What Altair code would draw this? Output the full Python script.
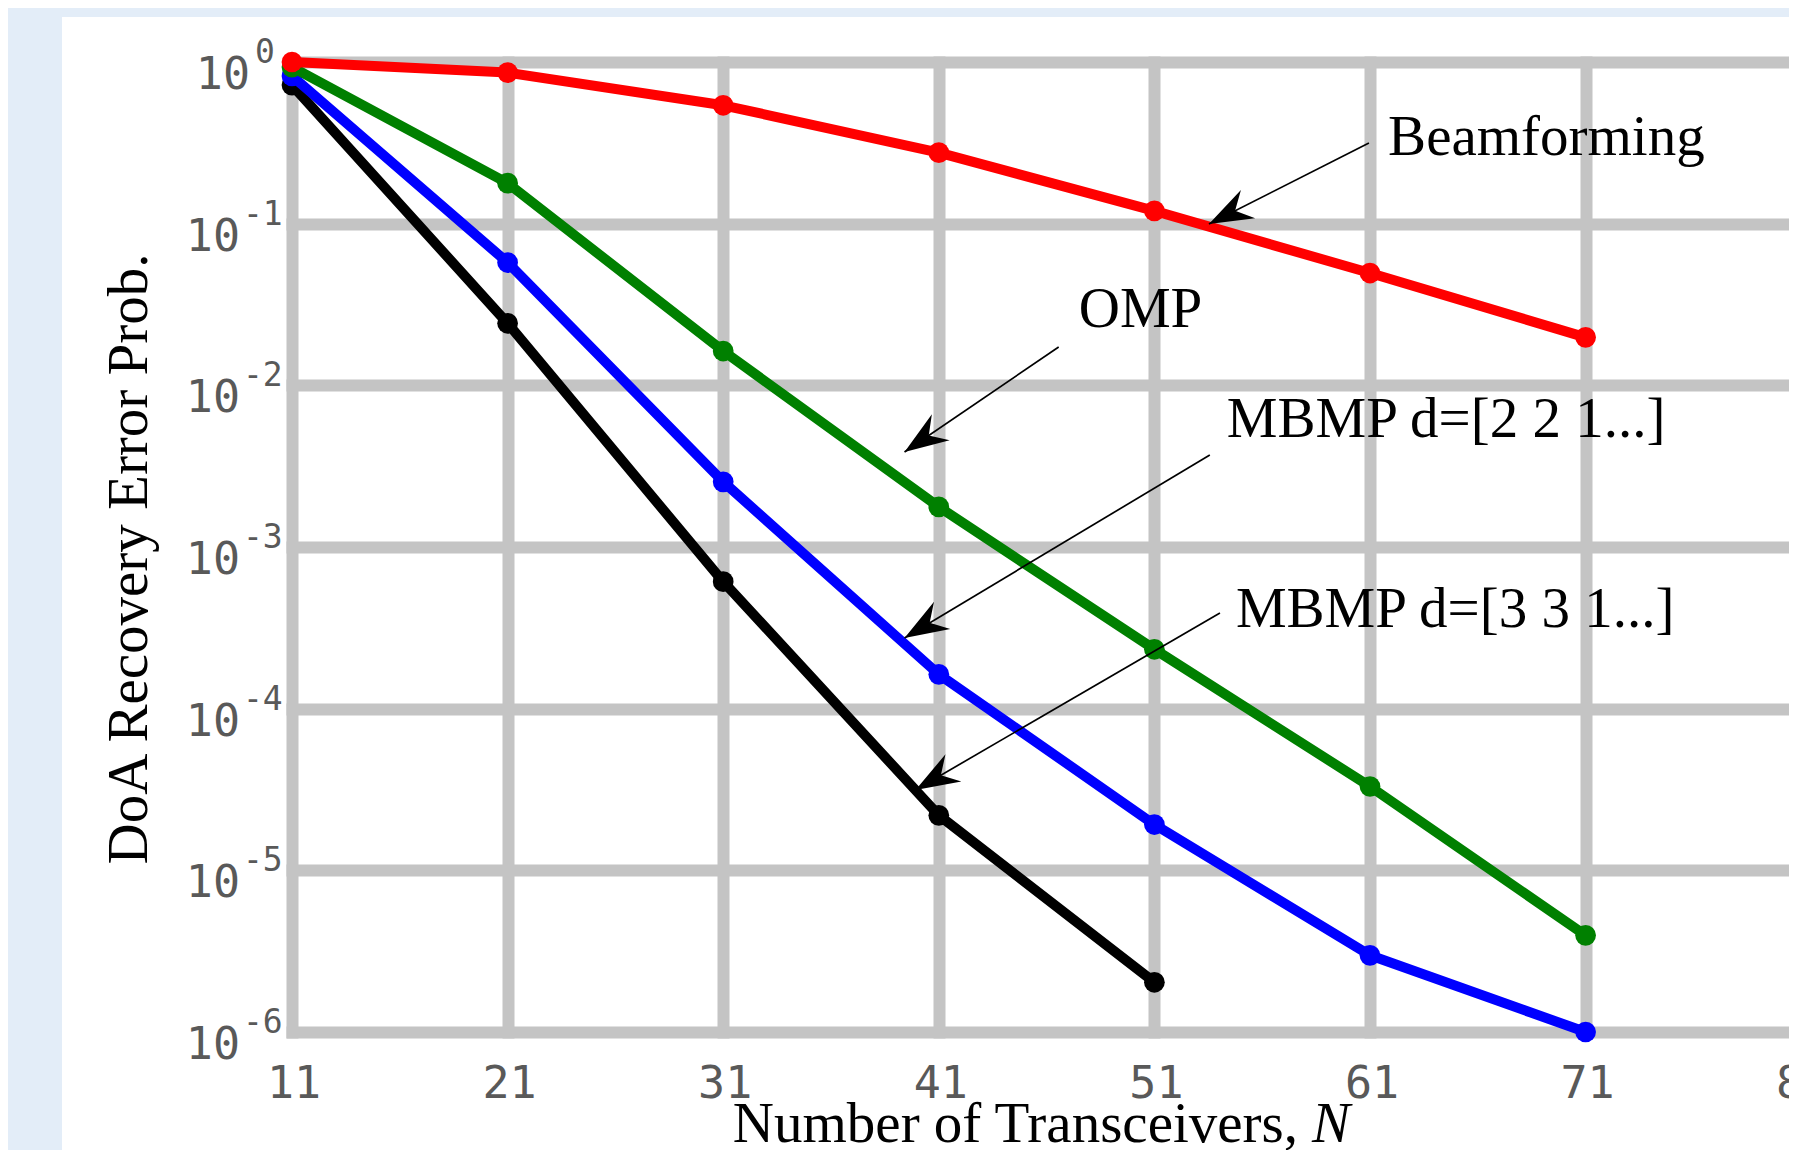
import math
import altair as alt
import pandas as pd

# ---------------- data ----------------
N_all = [11, 21, 31, 41, 51, 61, 71]
beamforming = [1.0, 0.86, 0.54, 0.275, 0.12, 0.0495, 0.0198]
omp = [0.93, 0.178, 0.0163, 0.00177, 2.33e-4, 3.3e-5, 3.96e-6]
mbmp221 = [0.82, 0.0575, 2.53e-3, 1.63e-4, 1.92e-5, 2.98e-6, 1.0e-6]
N_331 = [11, 21, 31, 41, 51]
mbmp331 = [0.72, 0.0242, 6.1e-4, 2.19e-5, 2.03e-6]

series_names = ["MBMP d=[3 3 1...]", "MBMP d=[2 2 1...]", "OMP", "Beamforming"]
series_N = [N_331, N_all, N_all, N_all]
series_vals = [mbmp331, mbmp221, omp, beamforming]
series_colors = ["#000000", "#0000ff", "#008000", "#ff0000"]

x_ticks = [11, 21, 31, 41, 51, 61, 71, 81]
y_ticks = [1, 1e-1, 1e-2, 1e-3, 1e-4, 1e-5, 1e-6]
y_exponents = ["0", "-1", "-2", "-3", "-4", "-5", "-6"]

ann_labels = ["Beamforming", "OMP", "MBMP d=[2 2 1...]", "MBMP d=[3 3 1...]"]
ann_label_N = [61.84, 47.49, 54.36, 54.78]
ann_label_P = [0.266, 0.0230, 4.79e-3, 3.2e-4]
arrow_from_N = [60.95, 46.56, 53.57, 54.04]
arrow_from_P = [0.3155, 0.01726, 3.71e-3, 3.91e-4]
arrow_to_N = [53.53, 39.41, 39.41, 39.92]
arrow_to_P = [0.0995, 3.87e-3, 2.74e-4, 3.14e-5]

x_title = "Number of Transceivers,"
x_title_var = "N"
y_title = "DoA Recovery Error Prob."

# ---------------- layout / style ----------------
PAD_L, PAD_T = 284, 54
TOTAL_W, TOTAL_H = 1781, 1142
W = TOTAL_W - PAD_L
H = 970
PX_PER_N = 21.56
X_MAX = 11 + W / PX_PER_N
BLUE = "#e3edf8"
GRID = "#c4c4c4"
TICK_FONT = "DejaVu Sans Mono"
TICK_COLOR = "#595959"
SERIF = "Liberation Serif"
ARROW_PATH = "M0,0L0.62,1.72L0,1.15L-0.62,1.72Z"

x_scale = alt.Scale(domain=[11, X_MAX], nice=False, zero=False)
y_scale = alt.Scale(type="log", domain=[1e-6, 1], nice=False)
x_axis = alt.Axis(values=x_ticks[:-1], grid=True, labels=False, ticks=False, domain=False,
                  title=None, gridColor=GRID, gridWidth=12, gridCap="square", gridOpacity=1)
y_axis = alt.Axis(values=y_ticks, grid=True, labels=False, ticks=False, domain=False,
                  title=None, gridColor=GRID, gridWidth=12, gridCap="square", gridOpacity=1)


def X(field="N"):
    return alt.X(f"{field}:Q", scale=x_scale, axis=x_axis)


def Y(field="P"):
    return alt.Y(f"{field}:Q", scale=y_scale, axis=y_axis)


one = pd.DataFrame({"a": [0]})

# slide background strips (left and top)
left_strip = alt.Chart(one).mark_rect(color=BLUE).encode(
    x=alt.value(-PAD_L), x2=alt.value(54 - PAD_L), y=alt.value(-PAD_T), y2=alt.value(H + 200))
top_strip = alt.Chart(one).mark_rect(color=BLUE).encode(
    x=alt.value(-PAD_L), x2=alt.value(W + 100), y=alt.value(-PAD_T), y2=alt.value(9 - PAD_T))

layers = [left_strip, top_strip]

# series
for name, ns, vals, col in zip(series_names, series_N, series_vals, series_colors):
    df = pd.DataFrame({"N": ns, "P": vals, "series": name})
    base = alt.Chart(df).encode(x=X(), y=Y())
    layers.append(base.mark_line(color=col, strokeWidth=10, strokeJoin="round"))
    layers.append(base.mark_point(color=col, filled=True, size=430, opacity=1, strokeWidth=0))

# annotations
def px(n):
    return (n - 11) * W / (X_MAX - 11)


def py(p):
    return -math.log10(p) / 6 * H


angles = []
for n1, p1, n2, p2 in zip(arrow_from_N, arrow_from_P, arrow_to_N, arrow_to_P):
    dx = px(n2) - px(n1)
    dy = py(p2) - py(p1)
    angles.append(math.degrees(math.atan2(dx, -dy)) % 360)

arr_df = pd.DataFrame({"N": arrow_from_N, "P": arrow_from_P,
                       "N2": arrow_to_N, "P2": arrow_to_P})
head_df = pd.DataFrame({"N": arrow_to_N, "P": arrow_to_P, "ang": angles})
lab_df = pd.DataFrame({"N": ann_label_N, "P": ann_label_P, "t": ann_labels})

layers.append(alt.Chart(arr_df).mark_rule(color="black", strokeWidth=1.7).encode(
    x=X(), y=Y(), x2="N2:Q", y2="P2:Q"))
layers.append(alt.Chart(head_df).mark_point(shape=ARROW_PATH, filled=True, color="black",
                                            size=2600, opacity=1, strokeWidth=0).encode(
    x=X(), y=Y(), angle=alt.Angle("ang:Q", scale=None)))
layers.append(alt.Chart(lab_df).mark_text(font=SERIF, fontSize=57, align="left",
                                          baseline="alphabetic", color="black").encode(
    x=X(), y=Y(), text="t:N"))

# y tick labels: "10" with superscript exponent
ylab = pd.DataFrame({"P": y_ticks, "b": ["10"] * len(y_ticks), "e": y_exponents})
ylab0 = ylab[ylab["e"] == "0"]
ylabn = ylab[ylab["e"] != "0"]
layers.append(alt.Chart(ylab0).mark_text(font=TICK_FONT, fontSize=45, color=TICK_COLOR, align="right",
                                         baseline="alphabetic", dy=27).encode(
    x=alt.value(-42), y=Y(), text="b:N"))
layers.append(alt.Chart(ylab0).mark_text(font=TICK_FONT, fontSize=33, color=TICK_COLOR, align="left",
                                         baseline="alphabetic", dy=1).encode(
    x=alt.value(-37), y=Y(), text="e:N"))
layers.append(alt.Chart(ylabn).mark_text(font=TICK_FONT, fontSize=45, color=TICK_COLOR, align="right",
                                         baseline="alphabetic", dy=27).encode(
    x=alt.value(-52), y=Y(), text="b:N"))
layers.append(alt.Chart(ylabn).mark_text(font=TICK_FONT, fontSize=33, color=TICK_COLOR, align="left",
                                         baseline="alphabetic", dy=1).encode(
    x=alt.value(-49), y=Y(), text="e:N"))

# x tick labels
xlab = pd.DataFrame({"N": x_ticks, "t": [str(v) for v in x_ticks]})
layers.append(alt.Chart(xlab).mark_text(font=TICK_FONT, fontSize=45, color=TICK_COLOR, align="center",
                                        baseline="alphabetic", dx=2).encode(
    x=X(), y=alt.value(H + 66), text="t:N"))

# axis titles
layers.append(alt.Chart(one).mark_text(text=x_title, font=SERIF, fontSize=57, align="right",
                                       baseline="alphabetic", color="black").encode(
    x=alt.value(1006), y=alt.value(H + 110)))
layers.append(alt.Chart(one).mark_text(text=x_title_var, font=SERIF, fontSize=57, fontStyle="italic",
                                       align="left", baseline="alphabetic", color="black").encode(
    x=alt.value(1020), y=alt.value(H + 110)))
layers.append(alt.Chart(one).mark_text(text=y_title, font=SERIF, fontSize=57, angle=270, align="center",
                                       baseline="alphabetic", color="black").encode(
    x=alt.value(-145), y=alt.value(497)))

chart = alt.layer(*layers).properties(
    width=W, height=H, background="white",
    padding={"left": PAD_L, "top": PAD_T, "right": 0, "bottom": TOTAL_H - PAD_T - H},
    autosize=alt.AutoSizeParams(type="none"),
).configure_view(stroke=None)

chart.save("out.html", embed_options={"renderer": "svg", "actions": False})
